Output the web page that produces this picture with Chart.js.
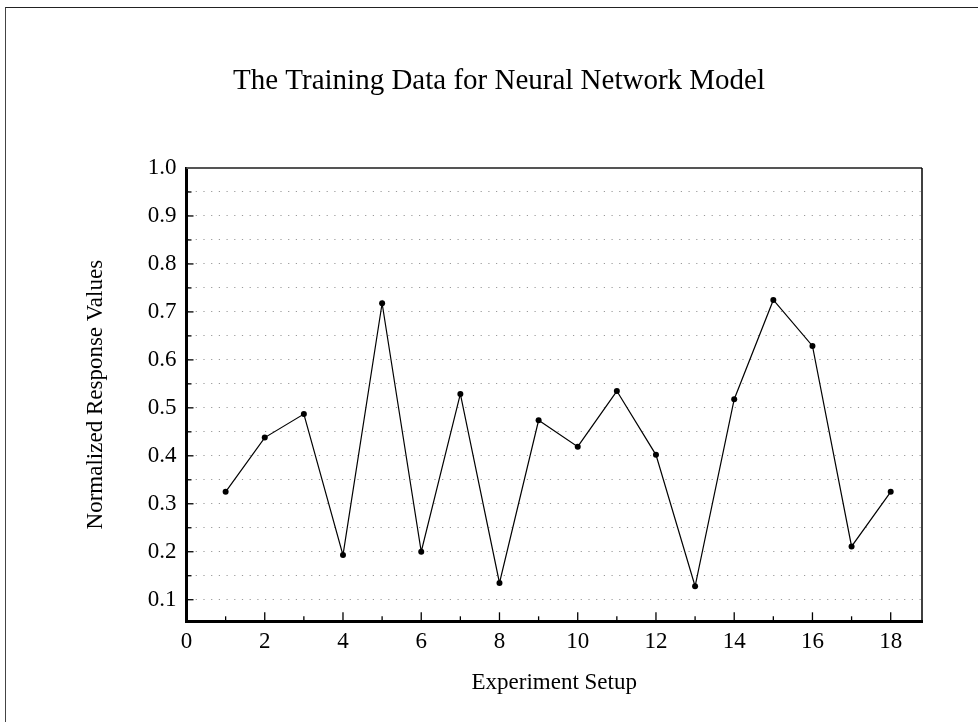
<!DOCTYPE html>
<html lang="en">
<head>
    <meta charset="UTF-8">
    <title>The Training Data for Neural Network Model</title>
    <script src="https://cdn.jsdelivr.net/npm/chart.js"></script>
    <style>
        * {
            margin: 0;
            padding: 0;
            box-sizing: border-box;
        }

        body {
            background: #fff;
            width: 978px;
            height: 722px;
            overflow: hidden;
            position: relative;
        }

        /* thin frame along the top and left edges of the figure */
        .frame {
            position: absolute;
            left: 5px;
            top: 7px;
            right: 0;
            bottom: 0;
            border-top: 1.5px solid #222;
            border-left: 1.5px solid #444;
            pointer-events: none;
        }

        canvas {
            position: absolute;
            left: 0;
            top: 0;
        }
    </style>
</head>
<body>
    <canvas id="trainChart" width="978" height="722"></canvas>
    <div class="frame"></div>

    <script>
        // experiment setups and normalized responses
        const setups = [1, 2, 3, 4, 5, 6, 7, 8, 9, 10, 11, 12, 13, 14, 15, 16, 17, 18];
        const responses = [0.325, 0.438, 0.487, 0.193, 0.718, 0.200, 0.529, 0.135, 0.474,
                           0.419, 0.535, 0.402, 0.128, 0.518, 0.725, 0.629, 0.211, 0.325];

        // axis ticks (labels only on every other x tick and every 0.1 on y)
        const xTicks = [0, 1, 2, 3, 4, 5, 6, 7, 8, 9, 10, 11, 12, 13, 14, 15, 16, 17, 18];
        const xLabels = ['0', '', '2', '', '4', '', '6', '', '8', '', '10', '', '12', '', '14', '', '16', '', '18'];
        const yTicks = [0.1, 0.15, 0.2, 0.25, 0.3, 0.35, 0.4, 0.45, 0.5, 0.55,
                        0.6, 0.65, 0.7, 0.75, 0.8, 0.85, 0.9, 0.95, 1.0];
        const yLabels = ['0.1', '', '0.2', '', '0.3', '', '0.4', '', '0.5', '',
                         '0.6', '', '0.7', '', '0.8', '', '0.9', '', '1.0'];

        const serif = 'Liberation Serif, Times New Roman, serif';

        // inward tick marks plus the thin top / right box lines
        const boxTicks = {
            id: 'boxTicks',
            afterDraw(chart) {
                const ctx = chart.ctx;
                const area = chart.chartArea;
                const xs = chart.scales.x;
                const ys = chart.scales.y;
                ctx.save();
                ctx.strokeStyle = '#000';
                ctx.lineWidth = 1.3;
                yTicks.forEach((v, i) => {
                    const py = ys.getPixelForValue(v);
                    ctx.beginPath();
                    ctx.moveTo(area.left, py);
                    ctx.lineTo(area.left + (yLabels[i] ? 7 : 5), py);
                    ctx.stroke();
                });
                xTicks.forEach((v, i) => {
                    const px = xs.getPixelForValue(v);
                    ctx.beginPath();
                    ctx.moveTo(px, area.bottom);
                    ctx.lineTo(px, area.bottom - (xLabels[i] ? 9 : 5));
                    ctx.stroke();
                });
                // top edge
                ctx.strokeStyle = '#555';
                ctx.lineWidth = 2;
                ctx.beginPath();
                ctx.moveTo(area.left, area.top);
                ctx.lineTo(area.right, area.top);
                ctx.stroke();
                // right edge
                ctx.strokeStyle = '#000';
                ctx.lineWidth = 1.5;
                ctx.beginPath();
                ctx.moveTo(area.right, area.top);
                ctx.lineTo(area.right, area.bottom + 1);
                ctx.stroke();
                ctx.restore();
            }
        };

        const ctx = document.getElementById('trainChart').getContext('2d');

        new Chart(ctx, {
            type: 'scatter',
            data: {
                datasets: [{
                    data: setups.map((s, i) => ({ x: s, y: responses[i] })),
                    showLine: true,
                    borderColor: '#000',
                    borderWidth: 1.2,
                    backgroundColor: '#000',
                    pointRadius: 3,
                    pointBorderWidth: 0,
                    pointBackgroundColor: '#000',
                    clip: false
                }]
            },
            options: {
                responsive: false,
                animation: false,
                devicePixelRatio: 1,
                layout: {
                    padding: { left: 76, right: 56, top: 0, bottom: 0 }
                },
                plugins: {
                    legend: { display: false },
                    tooltip: { enabled: false },
                    title: {
                        display: true,
                        text: 'The Training Data for Neural Network Model',
                        color: '#000',
                        font: { family: serif, size: 29, weight: 'normal' },
                        padding: { top: 63.6, bottom: 69.6 }
                    }
                },
                scales: {
                    x: {
                        type: 'linear',
                        min: 0,
                        max: 18.8,
                        afterBuildTicks: (scale) => {
                            scale.ticks = xTicks.map(v => ({ value: v }));
                        },
                        afterFit: (scale) => {
                            scale.height = 100.7;
                        },
                        ticks: {
                            autoSkip: false,
                            maxRotation: 0,
                            padding: 7,
                            color: '#000',
                            font: { family: serif, size: 23 },
                            callback: (v, i) => xLabels[i]
                        },
                        grid: {
                            drawOnChartArea: false,
                            drawTicks: false
                        },
                        border: { display: true, color: '#000', width: 3 },
                        title: {
                            display: true,
                            text: 'Experiment Setup',
                            color: '#000',
                            font: { family: serif, size: 23 },
                            padding: { top: 0, bottom: 25 }
                        }
                    },
                    y: {
                        min: 0.055,
                        max: 1.0,
                        afterBuildTicks: (scale) => {
                            scale.ticks = yTicks.map(v => ({ value: v }));
                        },
                        afterFit: (scale) => {
                            scale.width = 110.5;
                        },
                        ticks: {
                            autoSkip: false,
                            padding: 10,
                            color: '#000',
                            font: { family: serif, size: 23 },
                            callback: (v, i) => yLabels[i]
                        },
                        grid: {
                            color: '#9a9a9a',
                            lineWidth: 1,
                            drawTicks: false
                        },
                        border: { display: true, color: '#000', width: 3, dash: [1.2, 6.5] },
                        title: {
                            display: true,
                            text: 'Normalized Response Values',
                            color: '#000',
                            font: { family: serif, size: 23 },
                            padding: { top: 6, bottom: 0 }
                        }
                    }
                }
            },
            plugins: [boxTicks]
        });
    </script>
</body>
</html>
